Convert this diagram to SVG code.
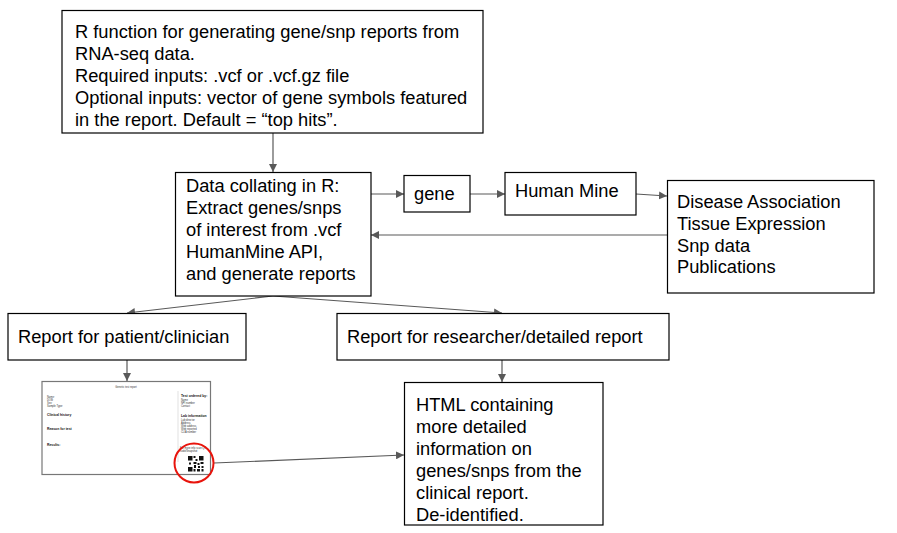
<svg xmlns="http://www.w3.org/2000/svg" width="897" height="533" viewBox="0 0 897 533">
<defs>
<marker id="ah" viewBox="0 0 10 10" refX="10" refY="5" markerWidth="8" markerHeight="8" markerUnits="userSpaceOnUse" orient="auto">
<path d="M0,0 L10,5 L0,10 z" fill="#595959"/>
</marker>
</defs>
<style>
.box{fill:#fff;stroke:#000;stroke-width:1.2}
.t{font-family:"Liberation Sans",Arial,sans-serif;font-size:18.3px;fill:#000}
.c{fill:none;stroke:#595959;stroke-width:1.2;marker-end:url(#ah)}
.tiny{font-family:"Liberation Sans",Arial,sans-serif;font-size:2.6px;fill:#333}
.tinyb{font-family:"Liberation Sans",Arial,sans-serif;font-size:3.4px;fill:#111;font-weight:bold}
</style>
<rect width="897" height="533" fill="#fff"/>
<g id="connectors">
<path class="c" d="M273,133 L273,172"/>
<path class="c" d="M371,194 L404,194"/>
<path class="c" d="M470,194 L505,194"/>
<path class="c" d="M636,194 L667,196"/>
<path class="c" d="M667,235 L371,235"/>
<path class="c" d="M273,296 L127,313"/>
<path class="c" d="M273,296 L502,313"/>
<path class="c" d="M127,360 L127,381"/>
<path class="c" d="M502,360 L502,382"/>
<path class="c" d="M214,463 L404,455"/>
</g>
<g id="n-rfunction">
<rect class="box" x="62" y="10.5" width="421" height="122.5"/>
<text class="t" x="75" y="38">R function for generating gene/snp reports from</text>
<text class="t" x="75" y="60">RNA-seq data.</text>
<text class="t" x="75" y="82">Required inputs: .vcf or .vcf.gz file</text>
<text class="t" x="75" y="104">Optional inputs: vector of gene symbols featured</text>
<text class="t" x="75" y="126">in the report. Default = “top hits”.</text>
</g>
<g id="n-collate">
<rect class="box" x="175.5" y="172.5" width="195.5" height="123.5"/>
<text class="t" x="186" y="192">Data collating in R:</text>
<text class="t" x="186" y="214">Extract genes/snps</text>
<text class="t" x="186" y="236">of interest from .vcf</text>
<text class="t" x="186" y="258">HumanMine API,</text>
<text class="t" x="186" y="280">and generate reports</text>
</g>
<g id="n-gene">
<rect class="box" x="404" y="175.5" width="66" height="36.5"/>
<text class="t" x="414" y="200">gene</text>
</g>
<g id="n-humanmine">
<rect class="box" x="505" y="172.5" width="131" height="42.5"/>
<text class="t" x="515" y="197">Human Mine</text>
</g>
<g id="n-disease">
<rect class="box" x="667.5" y="180.5" width="206.5" height="112.5"/>
<text class="t" x="677" y="208">Disease Association</text>
<text class="t" x="677" y="230">Tissue Expression</text>
<text class="t" x="677" y="252">Snp data</text>
<text class="t" x="677" y="273">Publications</text>
</g>
<g id="n-patient">
<rect class="box" x="8" y="313.5" width="238" height="46.5"/>
<text class="t" x="18" y="343">Report for patient/clinician</text>
</g>
<g id="n-researcher">
<rect class="box" x="337" y="313.5" width="332" height="46.5"/>
<text class="t" x="347" y="343">Report for researcher/detailed report</text>
</g>
<g id="n-report-image">
<rect x="42" y="381.5" width="168.5" height="93" fill="#fff" stroke="#777" stroke-width="1.2"/>
<line x1="178" y1="391" x2="178" y2="462" stroke="#ccc" stroke-width="0.6"/>
<text class="tiny" x="126" y="387.5" text-anchor="middle">Genetic test report</text>
<text class="tiny" x="47" y="398">Name:</text>
<text class="tiny" x="47" y="401">DOB:</text>
<text class="tiny" x="47" y="404">Sex:</text>
<text class="tiny" x="47" y="407">Sample Type:</text>
<text class="tinyb" x="47" y="416">Clinical history</text>
<text class="tinyb" x="47" y="430">Reason for test</text>
<text class="tinyb" x="47" y="446">Results:</text>
<text class="tinyb" x="181" y="397">Test ordered by:</text>
<text class="tiny" x="181" y="401">Name</text>
<text class="tiny" x="181" y="404">NPI number</text>
<text class="tiny" x="181" y="407">Contact</text>
<text class="tinyb" x="181" y="417">Lab information</text>
<text class="tiny" x="181" y="421">Lab director</text>
<text class="tiny" x="181" y="424">Address</text>
<text class="tiny" x="181" y="427">Web address</text>
<text class="tiny" x="181" y="430">Web reported</text>
<text class="tiny" x="181" y="433">CLIA number</text>
<text class="tiny" x="180" y="449">For more info scan QR</text>
<text class="tiny" x="180" y="452">code/Snapshot</text>
<g fill="#111">
<rect x="188" y="456" width="4.5" height="4.5"/>
<rect x="199" y="456" width="4.5" height="4.5"/>
<rect x="188" y="467" width="4.5" height="4.5"/>
<rect x="193.5" y="456" width="2" height="2"/>
<rect x="195.5" y="459" width="2" height="2"/>
<rect x="193.5" y="462" width="3" height="2"/>
<rect x="189" y="462.5" width="2" height="2"/>
<rect x="197.5" y="463" width="2" height="2"/>
<rect x="200.5" y="462" width="3" height="2"/>
<rect x="194" y="465" width="2" height="3"/>
<rect x="198" y="466" width="2" height="2"/>
<rect x="201.5" y="466" width="2" height="2"/>
<rect x="193.5" y="469" width="2" height="2.5"/>
<rect x="197" y="469" width="3" height="2.5"/>
<rect x="201.5" y="469" width="2" height="2.5"/>
</g>
<circle cx="194" cy="463" r="19.5" fill="none" stroke="#e8140c" stroke-width="2"/>
</g>
<g id="n-html">
<rect class="box" x="404.5" y="382.5" width="198.5" height="142.5"/>
<text class="t" x="416" y="411">HTML containing</text>
<text class="t" x="416" y="433">more detailed</text>
<text class="t" x="416" y="455">information on</text>
<text class="t" x="416" y="477">genes/snps from the</text>
<text class="t" x="416" y="499">clinical report.</text>
<text class="t" x="416" y="521">De-identified.</text>
</g>
</svg>
